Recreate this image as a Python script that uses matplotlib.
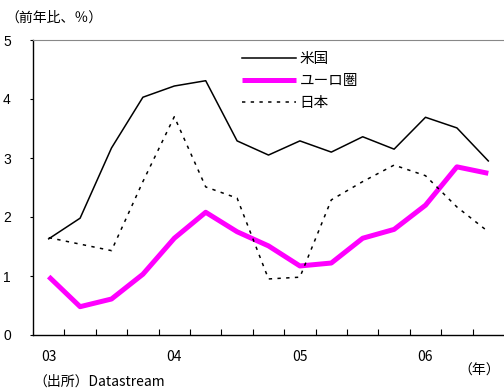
import matplotlib
matplotlib.use('Agg')
import matplotlib.pyplot as plt

plt.rcParams['font.family'] = ['Noto Sans CJK JP', 'DejaVu Sans']

# quarterly, 2003Q1 - 2006Q3
quarters = list(range(15))
us = [1.63, 1.98, 3.17, 4.03, 4.22, 4.31, 3.29, 3.05, 3.29, 3.10, 3.36, 3.15, 3.69, 3.51, 2.95]
euro = [0.99, 0.48, 0.61, 1.03, 1.64, 2.08, 1.75, 1.51, 1.17, 1.22, 1.64, 1.79, 2.20, 2.85, 2.74]
japan = [1.65, 1.54, 1.43, 2.60, 3.70, 2.51, 2.32, 0.95, 0.98, 2.29, 2.60, 2.88, 2.70, 2.17, 1.75]
year_pos = [0, 4, 8, 12]
year_labels = ['03', '04', '05', '06']

fig = plt.figure(figsize=(5.04, 3.92), dpi=100)
ax = fig.add_axes([33/504, 1-335/392, 471/504, 295/392])

ax.plot(quarters, us, color='black', lw=1.1, label='米国')
ax.plot(quarters, euro, color='#ff00ff', lw=3.6, label='ユーロ圏', solid_capstyle='butt')
ax.plot(quarters, japan, color='black', lw=1.1, linestyle=(0, (2.2, 3.5)), label='日本')

ax.set_xlim(-0.5, 14.5)
ax.set_ylim(0, 5)
ax.set_yticks([0, 1, 2, 3, 4, 5])
ax.set_yticklabels(['0', '1', '2', '3', '4', '5'], fontfamily='Liberation Sans', fontsize=10)
ax.tick_params(axis='y', length=2, pad=14, width=0.8)

ax.set_xticks(year_pos)
ax.set_xticklabels(year_labels, fontsize=10)
ax.set_xticks([q + 0.5 for q in quarters[:-1]], minor=True)
ax.tick_params(axis='x', which='major', length=0, pad=11)
ax.tick_params(axis='x', which='minor', direction='in', length=4, width=0.8)

ax.spines['right'].set_visible(False)
ax.spines['top'].set_color('#888888')
ax.spines['left'].set_linewidth(1.0)
ax.spines['bottom'].set_linewidth(1.0)

ax.legend(loc='upper left', bbox_to_anchor=(0.42, 1.0), frameon=False, fontsize=10.5,
          handlelength=3.7, handletextpad=0.2, labelspacing=0.55, borderaxespad=0.4)

fig.text(5/504, 1-18/392, '（前年比、％）', fontsize=10, va='center', ha='left')
fig.text(33/504, 1-382/392, '（出所）Datastream', fontsize=10, va='center', ha='left')
fig.text(500/504, 1-371/392, '（年）', fontsize=10, va='center', ha='right')

fig.savefig('out.png', dpi=100)
